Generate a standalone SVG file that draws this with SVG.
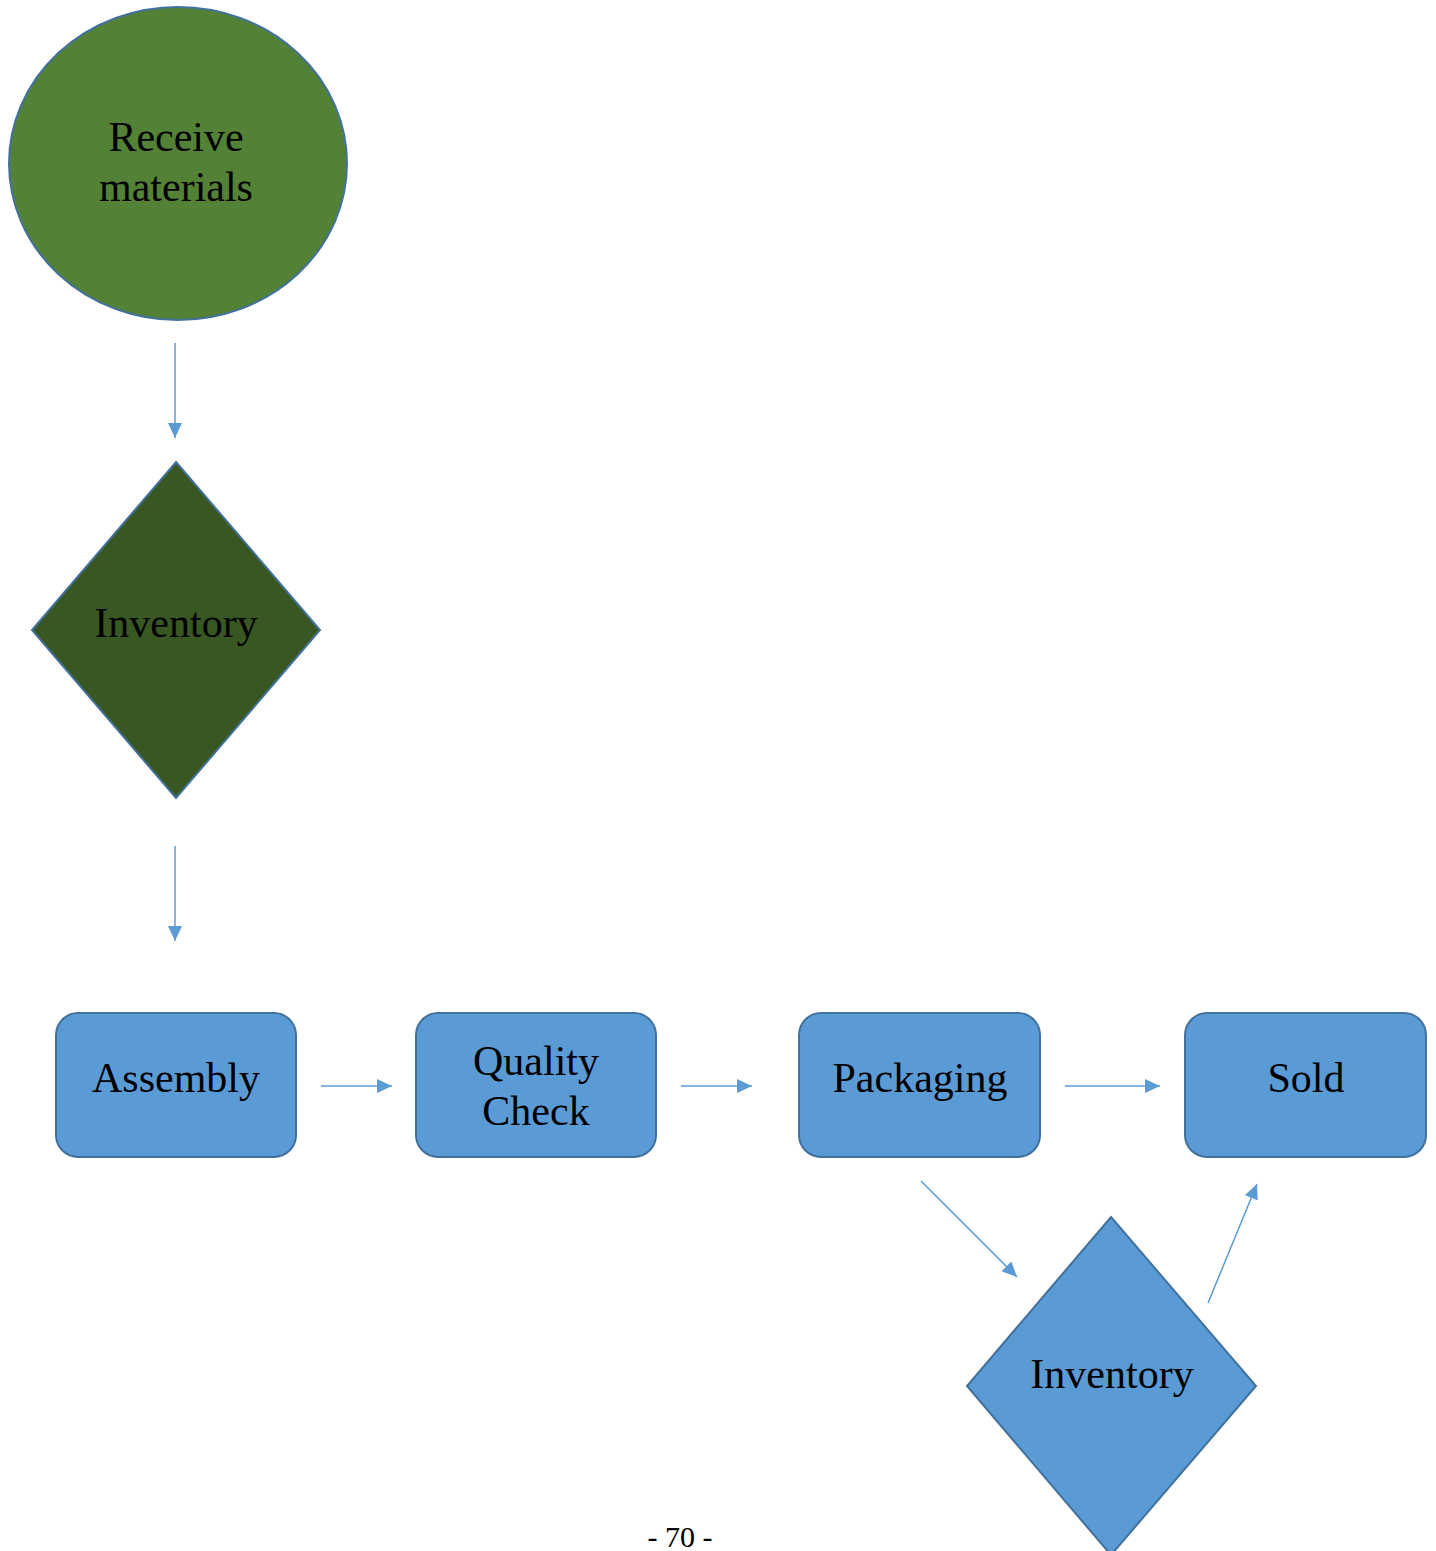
<svg xmlns="http://www.w3.org/2000/svg" width="1436" height="1551" viewBox="0 0 1436 1551">
<defs>
<style>
.lbl{fill:#000;text-anchor:middle}
.box{fill:#5B9BD5;stroke:#41719C;stroke-width:2}
.con{stroke:#5B9BD5;stroke-width:1.5;fill:none;marker-end:url(#ah)}
</style>
<marker id="ah" viewBox="0 0 15 14" refX="15" refY="7" markerWidth="15" markerHeight="14" markerUnits="userSpaceOnUse" orient="auto">
<path d="M0,0 L15,7 L0,14 z" fill="#5B9BD5"/>
</marker>
</defs>
<rect width="1436" height="1551" fill="#fff"/>
<g font-family="Liberation Serif, serif" font-size="42">
<g id="receive">
<ellipse cx="178" cy="163.5" rx="169" ry="156.5" fill="#538135" stroke="#41719C" stroke-width="2"/>
<text class="lbl" x="176" y="151">Receive</text>
<text class="lbl" x="176" y="201">materials</text>
</g>
<g id="inventory1">
<polygon points="176,462 320,630 176,798 32,630" fill="#385723" stroke="#41719C" stroke-width="2"/>
<text class="lbl" x="176" y="637">Inventory</text>
</g>
<g id="assembly">
<rect class="box" x="56" y="1013" width="240" height="144" rx="22"/>
<text class="lbl" x="176" y="1092">Assembly</text>
</g>
<g id="quality">
<rect class="box" x="416" y="1013" width="240" height="144" rx="22"/>
<text class="lbl" x="536" y="1075">Quality</text>
<text class="lbl" x="536" y="1125">Check</text>
</g>
<g id="packaging">
<rect class="box" x="799" y="1013" width="241" height="144" rx="22"/>
<text class="lbl" x="920" y="1092">Packaging</text>
</g>
<g id="sold">
<rect class="box" x="1185" y="1013" width="241" height="144" rx="22"/>
<text class="lbl" x="1306" y="1092">Sold</text>
</g>
<g id="inventory2">
<polygon points="1111,1217 1256,1386 1111,1555 967,1386" fill="#5B9BD5" stroke="#41719C" stroke-width="2"/>
<text class="lbl" x="1112" y="1388">Inventory</text>
</g>
</g>
<g id="connectors">
<line class="con" x1="175" y1="343" x2="175" y2="438"/>
<line class="con" x1="175" y1="846" x2="175" y2="941"/>
<line class="con" x1="321" y1="1086" x2="392" y2="1086"/>
<line class="con" x1="681" y1="1086" x2="752" y2="1086"/>
<line class="con" x1="1065" y1="1086" x2="1160" y2="1086"/>
<line class="con" x1="921" y1="1181" x2="1017" y2="1277"/>
<line class="con" x1="1208" y1="1303" x2="1257" y2="1184"/>
</g>
<text x="680" y="1547" font-family="Liberation Serif, serif" font-size="30" text-anchor="middle" fill="#000">- 70 -</text>
</svg>
